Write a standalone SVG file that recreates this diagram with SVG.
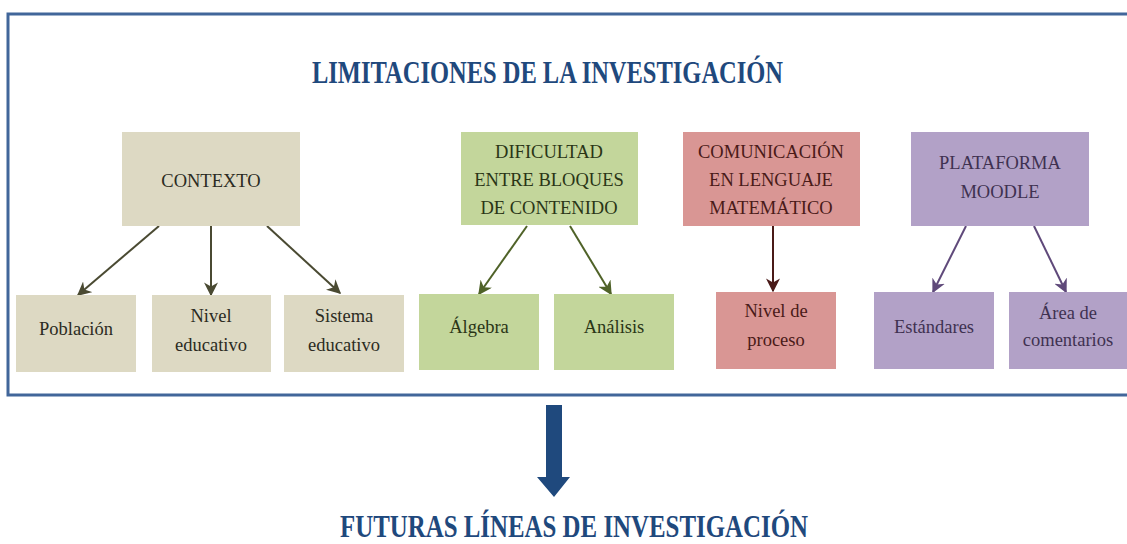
<svg xmlns="http://www.w3.org/2000/svg" width="1127" height="544" viewBox="0 0 1127 544">
<defs>
<style>
.t{font-family:"Liberation Serif","Times New Roman","DejaVu Serif",serif;font-size:18.5px;text-anchor:middle}
.h{font-family:"Liberation Serif","Times New Roman","DejaVu Serif",serif;font-size:32px;font-weight:bold;fill:#1f497d}
.tan{fill:#ddd9c3}.grn{fill:#c3d69b}.red{fill:#d99694}.pur{fill:#b2a1c7}
.ttan{fill:#2b2b22}.tgrn{fill:#2a3516}.tred{fill:#4a1a18}.tpur{fill:#3f3151}
.c{fill:none;stroke-width:2}
</style>
<marker id="aT" viewBox="0 0 10 10" refX="9" refY="5" markerWidth="14" markerHeight="14" markerUnits="userSpaceOnUse" orient="auto"><path d="M0,0 L10,5 L0,10 L3,5 z" fill="#4a4a32"/></marker>
<marker id="aG" viewBox="0 0 10 10" refX="9" refY="5" markerWidth="14" markerHeight="14" markerUnits="userSpaceOnUse" orient="auto"><path d="M0,0 L10,5 L0,10 L3,5 z" fill="#4f6228"/></marker>
<marker id="aR" viewBox="0 0 10 10" refX="9" refY="5" markerWidth="14" markerHeight="14" markerUnits="userSpaceOnUse" orient="auto"><path d="M0,0 L10,5 L0,10 L3,5 z" fill="#4a1a18"/></marker>
<marker id="aP" viewBox="0 0 10 10" refX="9" refY="5" markerWidth="14" markerHeight="14" markerUnits="userSpaceOnUse" orient="auto"><path d="M0,0 L10,5 L0,10 L3,5 z" fill="#5f497a"/></marker>
</defs>
<rect width="1127" height="544" fill="#ffffff"/>
<rect id="frame" x="8" y="14" width="1130" height="381" fill="none" stroke="#41669a" stroke-width="3"/>
<text class="h" x="312" y="83" textLength="471" lengthAdjust="spacingAndGlyphs">LIMITACIONES DE LA INVESTIGACIÓN</text>

<g id="connectors">
<line class="c" stroke="#4a4a32" x1="159" y1="226" x2="78" y2="295" marker-end="url(#aT)"/>
<line class="c" stroke="#4a4a32" x1="211" y1="226" x2="211" y2="295" marker-end="url(#aT)"/>
<line class="c" stroke="#4a4a32" x1="267" y1="226" x2="340" y2="293" marker-end="url(#aT)"/>
<line class="c" stroke="#4f6228" x1="527" y1="226" x2="479" y2="294" marker-end="url(#aG)"/>
<line class="c" stroke="#4f6228" x1="570" y1="226" x2="611" y2="294" marker-end="url(#aG)"/>
<line class="c" stroke="#4a1a18" x1="773" y1="226" x2="773" y2="291" marker-end="url(#aR)"/>
<line class="c" stroke="#5f497a" x1="966" y1="226" x2="933" y2="292" marker-end="url(#aP)"/>
<line class="c" stroke="#5f497a" x1="1034" y1="226" x2="1066" y2="292" marker-end="url(#aP)"/>
<polygon points="546,405 562,405 562,477 570,477 554,497 537,477 546,477" fill="#1f497d"/>
</g>

<g id="contexto"><rect class="tan" x="122" y="132" width="178" height="94"/><text class="t ttan" x="211" y="187">CONTEXTO</text></g>
<g id="poblacion"><rect class="tan" x="16" y="295" width="120" height="77"/><text class="t ttan" x="76" y="335">Población</text></g>
<g id="nivel-educativo"><rect class="tan" x="152" y="295" width="119" height="77"/><text class="t ttan" x="211" y="322">Nivel</text><text class="t ttan" x="211" y="351">educativo</text></g>
<g id="sistema-educativo"><rect class="tan" x="284" y="295" width="120" height="77"/><text class="t ttan" x="344" y="322">Sistema</text><text class="t ttan" x="344" y="351">educativo</text></g>

<g id="dificultad"><rect class="grn" x="461" y="132" width="177" height="93"/><text class="t tgrn" x="549" y="158">DIFICULTAD</text><text class="t tgrn" x="549" y="186">ENTRE BLOQUES</text><text class="t tgrn" x="549" y="214">DE CONTENIDO</text></g>
<g id="algebra"><rect class="grn" x="419" y="294" width="120" height="76"/><text class="t tgrn" x="479" y="333">Álgebra</text></g>
<g id="analisis"><rect class="grn" x="554" y="294" width="120" height="76"/><text class="t tgrn" x="614" y="333">Análisis</text></g>

<g id="comunicacion"><rect class="red" x="683" y="132" width="177" height="94"/><text class="t tred" x="771" y="158">COMUNICACIÓN</text><text class="t tred" x="771" y="186">EN LENGUAJE</text><text class="t tred" x="771" y="214">MATEMÁTICO</text></g>
<g id="nivel-proceso"><rect class="red" x="716" y="292" width="120" height="77"/><text class="t tred" x="776" y="317">Nivel de</text><text class="t tred" x="776" y="346">proceso</text></g>

<g id="plataforma"><rect class="pur" x="911" y="132" width="178" height="94"/><text class="t tpur" x="1000" y="169">PLATAFORMA</text><text class="t tpur" x="1000" y="198">MOODLE</text></g>
<g id="estandares"><rect class="pur" x="874" y="292" width="120" height="77"/><text class="t tpur" x="934" y="333">Estándares</text></g>
<g id="area-comentarios"><rect class="pur" x="1009" y="292" width="120" height="77"/><text class="t tpur" x="1068" y="319">Área de</text><text class="t tpur" x="1068" y="346">comentarios</text></g>

<text class="h" x="340" y="537" textLength="468" lengthAdjust="spacingAndGlyphs">FUTURAS LÍNEAS DE INVESTIGACIÓN</text>
</svg>
